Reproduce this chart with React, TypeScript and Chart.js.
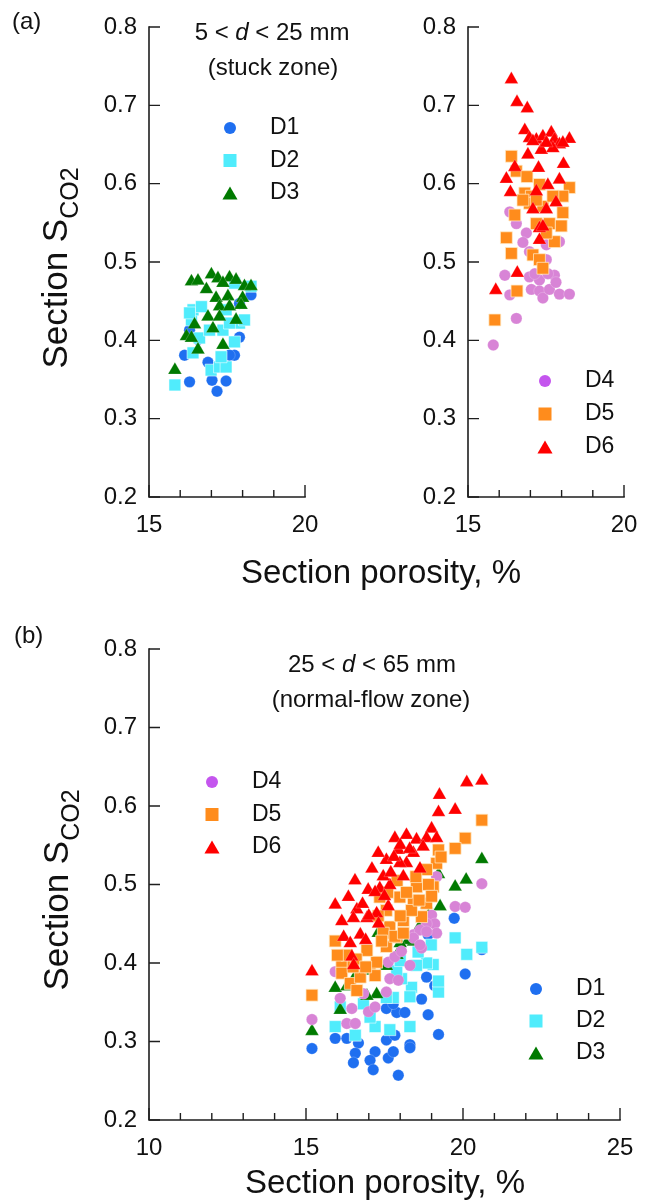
import React, { useEffect, useRef } from 'react';
import { Chart, registerables } from 'chart.js';
Chart.register(...registerables);

const W = 653;
const H = 1203;
const FONT = '"Liberation Sans", Arial, Helvetica, sans-serif';
const AXIS = '#1e1e1e';
const TEXT = '#111111';

// ---------- colours ----------
const C_D1 = '#1f6ff0';
const C_D2 = '#50ecfc';
const C_D3 = '#007a00';
const C_D4 = '#d884d6';
const C_D4_LEG = '#c455ee';
const C_D5 = '#ff8c1c';
const C_D6 = '#ff0000';

// ---------- ticks ----------
const yTickLabels = ['0.2', '0.3', '0.4', '0.5', '0.6', '0.7', '0.8'];
const topXRange = [15, 20];
const bottomXRange = [10, 25];

// ---------- (a) left panel: D1..D3 ----------
const topD1X = [16.30, 17.02, 17.47, 17.18, 16.89, 17.74, 17.90, 16.14, 16.30, 16.57, 18.27, 17.90, 17.58];
const topD1Y = [0.347, 0.349, 0.348, 0.335, 0.372, 0.381, 0.404, 0.381, 0.413, 0.401, 0.458, 0.447, 0.381];

const topD2X = [15.83, 16.41, 16.99, 17.26, 17.47, 17.31, 17.74, 17.90, 18.27, 16.62, 17.37, 17.47, 17.74, 16.36, 18.06, 16.41, 16.68, 16.30, 16.94, 17.58];
const topD2Y = [0.343, 0.384, 0.362, 0.366, 0.366, 0.379, 0.398, 0.422, 0.469, 0.403, 0.413, 0.439, 0.473, 0.426, 0.426, 0.439, 0.443, 0.435, 0.413, 0.422];

const topD3X = [16.36, 16.57, 17.00, 17.21, 17.58, 17.79, 18.06, 18.27, 16.84, 17.37, 17.15, 17.53, 18.00, 17.26, 17.58, 17.95, 16.89, 17.26, 17.79, 16.46, 17.05, 16.20, 16.36, 17.37, 16.57, 15.83];
const topD3Y = [0.475, 0.476, 0.484, 0.479, 0.480, 0.477, 0.469, 0.469, 0.465, 0.473, 0.454, 0.456, 0.454, 0.443, 0.443, 0.445, 0.430, 0.430, 0.426, 0.420, 0.415, 0.405, 0.403, 0.394, 0.388, 0.362];

// ---------- (a) right panel: D4..D6 ----------
const topD4X = [15.81, 16.55, 16.18, 16.34, 16.34, 16.55, 16.87, 16.76, 16.97, 17.51, 17.93, 17.51, 16.97, 17.29, 17.77, 17.03, 17.29, 17.40, 17.61, 17.82, 17.93, 18.25, 17.14, 17.56];
const topD4Y = [0.394, 0.428, 0.483, 0.458, 0.564, 0.549, 0.537, 0.525, 0.513, 0.522, 0.526, 0.503, 0.481, 0.477, 0.483, 0.465, 0.463, 0.454, 0.465, 0.474, 0.459, 0.459, 0.485, 0.485];

const topD5X = [16.39, 16.55, 16.89, 16.82, 17.03, 17.29, 18.25, 18.04, 16.97, 17.40, 18.04, 16.50, 17.61, 17.19, 17.99, 16.23, 17.77, 16.39, 17.08, 17.29, 17.40, 16.57, 15.86, 17.51, 16.76, 17.19, 17.72];
const topD5Y = [0.635, 0.616, 0.609, 0.588, 0.584, 0.599, 0.595, 0.584, 0.575, 0.571, 0.563, 0.560, 0.549, 0.549, 0.546, 0.531, 0.526, 0.511, 0.509, 0.503, 0.492, 0.463, 0.426, 0.537, 0.579, 0.579, 0.584];

const topD6X = [16.39, 16.57, 16.90, 16.82, 16.97, 17.19, 17.40, 17.67, 17.77, 17.93, 18.25, 16.92, 17.35, 17.72, 16.50, 17.26, 18.06, 16.23, 16.36, 17.19, 17.56, 17.93, 17.82, 17.08, 17.51, 17.29, 17.40, 17.29, 16.58, 15.89, 17.08, 17.51, 18.04];
const topD6Y = [0.733, 0.704, 0.696, 0.668, 0.658, 0.656, 0.660, 0.665, 0.656, 0.650, 0.657, 0.637, 0.643, 0.645, 0.621, 0.620, 0.625, 0.606, 0.589, 0.590, 0.598, 0.605, 0.576, 0.567, 0.567, 0.543, 0.545, 0.528, 0.486, 0.464, 0.654, 0.652, 0.652];

// ---------- (b) panel: D1..D6 ----------
const botD1X = [15.19, 15.93, 16.30, 16.67, 16.57, 16.51, 17.20, 17.04, 17.14, 17.62, 17.78, 17.56, 17.83, 17.94, 18.31, 18.31, 18.89, 19.22, 18.68, 18.84, 19.10, 17.56, 17.89, 18.15, 17.78, 20.07, 20.60, 18.89, 19.72];
const botD1Y = [0.291, 0.304, 0.304, 0.298, 0.285, 0.273, 0.287, 0.276, 0.264, 0.279, 0.287, 0.302, 0.308, 0.257, 0.296, 0.292, 0.334, 0.309, 0.354, 0.382, 0.371, 0.342, 0.337, 0.337, 0.348, 0.386, 0.417, 0.436, 0.457];

const botD2X = [19.75, 20.60, 20.12, 15.93, 16.57, 17.20, 17.67, 18.31, 19.22, 19.22, 19.05, 18.84, 18.52, 18.36, 18.31, 17.78, 17.56, 18.04, 17.89, 18.00, 16.83, 16.09, 17.04, 18.57, 18.99];
const botD2Y = [0.432, 0.420, 0.411, 0.319, 0.308, 0.319, 0.315, 0.319, 0.363, 0.377, 0.398, 0.400, 0.397, 0.369, 0.357, 0.356, 0.356, 0.380, 0.390, 0.403, 0.348, 0.344, 0.331, 0.414, 0.423];

const botD3X = [20.60, 20.10, 19.75, 19.27, 18.84, 19.05, 19.22, 17.30, 15.19, 15.93, 16.09, 17.25, 16.94, 17.56, 18.42, 18.26, 18.00, 16.60, 17.00, 16.30, 18.60, 18.90, 17.90];
const botD3Y = [0.532, 0.506, 0.497, 0.472, 0.474, 0.453, 0.513, 0.438, 0.313, 0.368, 0.340, 0.360, 0.358, 0.396, 0.427, 0.429, 0.425, 0.385, 0.390, 0.370, 0.445, 0.460, 0.410];

const botD4X = [19.16, 20.60, 19.75, 20.07, 19.00, 19.10, 18.84, 19.16, 18.42, 18.63, 15.19, 15.93, 16.09, 16.30, 16.57, 16.46, 16.99, 17.20, 17.56, 17.67, 17.94, 17.62, 17.83, 18.31, 18.04, 18.42, 18.68, 18.84, 18.63, 16.83];
const botD4Y = [0.510, 0.501, 0.472, 0.471, 0.461, 0.450, 0.450, 0.438, 0.436, 0.442, 0.328, 0.389, 0.355, 0.323, 0.323, 0.342, 0.338, 0.344, 0.363, 0.380, 0.378, 0.401, 0.408, 0.397, 0.415, 0.432, 0.419, 0.440, 0.423, 0.361];

const botD5X = [20.60, 20.07, 19.75, 19.22, 19.16, 18.84, 18.52, 19.05, 18.42, 18.84, 17.99, 17.56, 18.10, 17.67, 18.68, 18.36, 17.88, 17.46, 15.93, 17.35, 15.19, 16.14, 16.14, 16.41, 16.62, 16.73, 17.04, 17.20, 17.25, 17.56, 17.83, 17.41, 18.10, 16.94, 17.60, 17.90, 18.20, 18.00, 17.30, 18.90, 19.30, 18.60, 18.50, 19.00, 16.30, 16.50, 16.00, 16.60, 16.90];
const botD5Y = [0.582, 0.559, 0.546, 0.544, 0.527, 0.519, 0.497, 0.497, 0.480, 0.476, 0.484, 0.467, 0.454, 0.446, 0.459, 0.467, 0.433, 0.438, 0.428, 0.484, 0.359, 0.399, 0.387, 0.374, 0.365, 0.382, 0.395, 0.384, 0.401, 0.421, 0.434, 0.428, 0.438, 0.416, 0.490, 0.505, 0.490, 0.460, 0.460, 0.500, 0.535, 0.480, 0.510, 0.485, 0.410, 0.395, 0.410, 0.405, 0.395];

const botD6X = [20.12, 20.60, 19.25, 19.22, 19.75, 19.00, 17.83, 18.20, 18.52, 18.84, 19.16, 17.94, 18.42, 18.73, 17.56, 18.20, 18.63, 16.56, 16.98, 17.35, 17.67, 16.35, 15.93, 16.62, 17.25, 17.62, 16.14, 16.51, 16.94, 17.31, 16.20, 16.73, 17.99, 17.46, 16.46, 16.52, 15.19, 16.90, 16.41, 17.10, 17.30, 17.80, 18.00, 18.30, 17.70, 18.10, 17.20, 17.50, 16.80, 17.00];
const botD6Y = [0.630, 0.632, 0.614, 0.592, 0.595, 0.571, 0.559, 0.563, 0.557, 0.559, 0.559, 0.544, 0.540, 0.548, 0.531, 0.527, 0.520, 0.505, 0.493, 0.495, 0.499, 0.484, 0.474, 0.468, 0.463, 0.472, 0.453, 0.457, 0.457, 0.450, 0.433, 0.436, 0.527, 0.510, 0.408, 0.397, 0.389, 0.429, 0.425, 0.520, 0.540, 0.535, 0.550, 0.545, 0.515, 0.510, 0.490, 0.485, 0.475, 0.460];

// ---------- drawing helpers ----------
type Style = 'circle' | 'rect' | 'triangle';
const RADIUS: Record<Style, number> = { circle: 5.7, rect: 8.4, triangle: 7.9 };
const LEG_RADIUS: Record<Style, number> = { circle: 6, rect: 9.2, triangle: 8.7 };

function drawMarker(ctx: CanvasRenderingContext2D, style: Style, x: number, y: number, color: string) {
  const r = LEG_RADIUS[style];
  ctx.save();
  ctx.fillStyle = color;
  ctx.beginPath();
  if (style === 'circle') {
    ctx.arc(x, y, r, 0, Math.PI * 2);
  } else if (style === 'rect') {
    const s = r * Math.SQRT1_2;
    ctx.rect(x - s, y - s, 2 * s, 2 * s);
  } else {
    const yc = y + r * 0.25;
    ctx.moveTo(x, yc - r);
    ctx.lineTo(x + r * Math.sin((2 * Math.PI) / 3), yc - r * Math.cos((2 * Math.PI) / 3));
    ctx.lineTo(x + r * Math.sin((4 * Math.PI) / 3), yc - r * Math.cos((4 * Math.PI) / 3));
    ctx.closePath();
  }
  ctx.fill();
  ctx.restore();
}

function text(ctx: CanvasRenderingContext2D, s: string, x: number, y: number, size: number, align: CanvasTextAlign = 'left', baseline: CanvasTextBaseline = 'middle') {
  ctx.save();
  ctx.font = `${size}px ${FONT}`;
  ctx.fillStyle = TEXT;
  ctx.textAlign = align;
  ctx.textBaseline = baseline;
  ctx.fillText(s, x, y);
  ctx.restore();
}

function richCentered(ctx: CanvasRenderingContext2D, parts: { t: string; i?: boolean }[], cx: number, cy: number, size: number) {
  ctx.save();
  ctx.fillStyle = TEXT;
  ctx.textBaseline = 'middle';
  ctx.textAlign = 'left';
  const fonts = parts.map((p) => `${p.i ? 'italic ' : ''}${size}px ${FONT}`);
  let total = 0;
  const widths = parts.map((p, k) => {
    ctx.font = fonts[k];
    const w = ctx.measureText(p.t).width;
    total += w;
    return w;
  });
  let x = cx - total / 2;
  parts.forEach((p, k) => {
    ctx.font = fonts[k];
    ctx.fillText(p.t, x, cy);
    x += widths[k];
  });
  ctx.restore();
}

function yTitle(ctx: CanvasRenderingContext2D, baselineX: number, centerY: number) {
  const main = 'Section S';
  const sub = 'CO2';
  const fMain = 35;
  const fSub = 25;
  ctx.save();
  ctx.fillStyle = TEXT;
  ctx.translate(baselineX, centerY);
  ctx.rotate(-Math.PI / 2);
  ctx.textBaseline = 'alphabetic';
  ctx.textAlign = 'left';
  ctx.font = `${fMain}px ${FONT}`;
  const w1 = ctx.measureText(main).width;
  ctx.font = `${fSub}px ${FONT}`;
  const w2 = ctx.measureText(sub).width;
  const start = -(w1 + w2) / 2;
  ctx.font = `${fMain}px ${FONT}`;
  ctx.fillText(main, start, 0);
  ctx.font = `${fSub}px ${FONT}`;
  ctx.fillText(sub, start + w1, 11);
  ctx.restore();
}

function legend(ctx: CanvasRenderingContext2D, items: { label: string; style: Style; color: string }[], mx: number, tx: number, y0: number, dy: number) {
  items.forEach((it, k) => {
    const y = y0 + k * dy;
    drawMarker(ctx, it.style, mx, y, it.color);
    text(ctx, it.label, tx, y, 23);
  });
}

// ---------- chart building ----------
type Series = { label: string; xs: number[]; ys: number[]; style: Style; color: string; border: string };

type PanelCfg = {
  series: Series[];
  xRange: number[];
  area: { left: number; right: number; top: number; bottom: number };
  extras: (ctx: CanvasRenderingContext2D) => void;
};

const Y_BOX = 60;
const X_BOX = 40;

function buildChart(canvas: HTMLCanvasElement, cfg: PanelCfg) {
  const a = cfg.area;
  const axesPlugin = {
    id: 'axesAndExtras',
    afterDraw(chart: any) {
      const ctx: CanvasRenderingContext2D = chart.ctx;
      const ca = chart.chartArea;
      const xs = chart.scales.x;
      const ys = chart.scales.y;
      ctx.save();
      ctx.strokeStyle = AXIS;
      ctx.lineWidth = 1.6;
      ctx.lineCap = 'square';
      ctx.beginPath();
      ctx.moveTo(ca.left, ca.top);
      ctx.lineTo(ca.left, ca.bottom);
      ctx.lineTo(ca.right, ca.bottom);
      ctx.stroke();
      ctx.lineCap = 'butt';
      ctx.lineWidth = 1.4;
      ctx.beginPath();
      xs.ticks.forEach((t: any) => {
        const px = xs.getPixelForValue(t.value);
        const len = Math.round(t.value) % 5 === 0 ? 12 : 7;
        ctx.moveTo(px, ca.bottom);
        ctx.lineTo(px, ca.bottom - len);
      });
      ys.ticks.forEach((t: any) => {
        const py = ys.getPixelForValue(t.value);
        ctx.moveTo(ca.left, py);
        ctx.lineTo(ca.left + 11, py);
      });
      ctx.stroke();
      ctx.restore();
      cfg.extras(ctx);
    },
  };

  // datasets listed so the last series is drawn on top
  const datasets = cfg.series
    .slice()
    .reverse()
    .map((s) => ({
      label: s.label,
      data: s.xs.map((x, i) => ({ x, y: s.ys[i] })),
      pointStyle: s.style,
      pointRadius: RADIUS[s.style],
      pointHoverRadius: RADIUS[s.style],
      backgroundColor: s.color,
      pointBackgroundColor: s.color,
      borderColor: s.border,
      pointBorderColor: s.border,
      pointBorderWidth: s.style === 'rect' ? 1 : 0.6,
      showLine: false,
    }));

  return new Chart(canvas, {
    type: 'scatter',
    data: { datasets },
    plugins: [axesPlugin],
    options: {
      responsive: false,
      maintainAspectRatio: false,
      devicePixelRatio: 1,
      animation: false,
      events: [],
      layout: {
        padding: {
          left: a.left - Y_BOX,
          right: W - a.right,
          top: a.top,
          bottom: H - a.bottom - X_BOX,
        },
      },
      plugins: { legend: { display: false }, tooltip: { enabled: false }, title: { display: false } },
      scales: {
        x: {
          type: 'linear',
          min: cfg.xRange[0],
          max: cfg.xRange[1],
          grid: { display: false, drawTicks: false },
          border: { display: false },
          afterFit: (scale: any) => {
            scale.height = X_BOX;
          },
          ticks: {
            stepSize: 1,
            autoSkip: false,
            maxRotation: 0,
            padding: 14,
            color: TEXT,
            font: { family: FONT, size: 24 },
            callback: (v: any) => (Math.round(Number(v)) % 5 === 0 ? String(Math.round(Number(v))) : ''),
          },
        },
        y: {
          type: 'linear',
          min: 0.2,
          max: 0.8,
          grid: { display: false, drawTicks: false },
          border: { display: false },
          afterFit: (scale: any) => {
            scale.width = Y_BOX;
          },
          ticks: {
            stepSize: 0.1,
            padding: 12,
            color: TEXT,
            font: { family: FONT, size: 24 },
            callback: (v: any) => {
              const idx = Math.round((Number(v) - 0.2) * 10);
              return yTickLabels[idx] ?? '';
            },
          },
        },
      },
    } as any,
  });
}

const leftTop: PanelCfg = {
  series: [
    { label: 'D1', xs: topD1X, ys: topD1Y, style: 'circle', color: C_D1, border: 'rgba(255,255,255,0.35)' },
    { label: 'D2', xs: topD2X, ys: topD2Y, style: 'rect', color: C_D2, border: 'rgba(255,255,255,0.55)' },
    { label: 'D3', xs: topD3X, ys: topD3Y, style: 'triangle', color: C_D3, border: 'rgba(255,255,255,0.35)' },
  ],
  xRange: topXRange,
  area: { left: 149, right: 305, top: 27, bottom: 497 },
  extras: (ctx) => {
    text(ctx, '(a)', 12, 22, 24);
    yTitle(ctx, 67, 268);
    text(ctx, 'Section porosity, %', 381, 583, 33, 'center', 'alphabetic');
    richCentered(ctx, [{ t: '5 < ' }, { t: 'd', i: true }, { t: ' < 25 mm' }], 272, 33, 24);
    richCentered(ctx, [{ t: '(stuck zone)' }], 273, 68, 24);
    legend(
      ctx,
      [
        { label: 'D1', style: 'circle', color: C_D1 },
        { label: 'D2', style: 'rect', color: C_D2 },
        { label: 'D3', style: 'triangle', color: C_D3 },
      ],
      230,
      270,
      128,
      32.5
    );
  },
};

const rightTop: PanelCfg = {
  series: [
    { label: 'D4', xs: topD4X, ys: topD4Y, style: 'circle', color: C_D4, border: 'rgba(255,255,255,0.35)' },
    { label: 'D5', xs: topD5X, ys: topD5Y, style: 'rect', color: C_D5, border: 'rgba(255,235,200,0.75)' },
    { label: 'D6', xs: topD6X, ys: topD6Y, style: 'triangle', color: C_D6, border: 'rgba(255,255,255,0.35)' },
  ],
  xRange: topXRange,
  area: { left: 468, right: 624, top: 27, bottom: 497 },
  extras: (ctx) => {
    legend(
      ctx,
      [
        { label: 'D4', style: 'circle', color: C_D4_LEG },
        { label: 'D5', style: 'rect', color: C_D5 },
        { label: 'D6', style: 'triangle', color: C_D6 },
      ],
      545,
      585,
      381,
      33
    );
  },
};

const bottom: PanelCfg = {
  series: [
    { label: 'D1', xs: botD1X, ys: botD1Y, style: 'circle', color: C_D1, border: 'rgba(255,255,255,0.35)' },
    { label: 'D2', xs: botD2X, ys: botD2Y, style: 'rect', color: C_D2, border: 'rgba(255,255,255,0.55)' },
    { label: 'D3', xs: botD3X, ys: botD3Y, style: 'triangle', color: C_D3, border: 'rgba(255,255,255,0.35)' },
    { label: 'D4', xs: botD4X, ys: botD4Y, style: 'circle', color: C_D4, border: 'rgba(255,255,255,0.35)' },
    { label: 'D5', xs: botD5X, ys: botD5Y, style: 'rect', color: C_D5, border: 'rgba(255,235,200,0.75)' },
    { label: 'D6', xs: botD6X, ys: botD6Y, style: 'triangle', color: C_D6, border: 'rgba(255,255,255,0.35)' },
  ],
  xRange: bottomXRange,
  area: { left: 149, right: 620, top: 649, bottom: 1120 },
  extras: (ctx) => {
    text(ctx, '(b)', 14, 636, 24);
    yTitle(ctx, 68, 890);
    text(ctx, 'Section porosity, %', 385, 1193, 33, 'center', 'alphabetic');
    richCentered(ctx, [{ t: '25 < ' }, { t: 'd', i: true }, { t: ' < 65 mm' }], 372, 665, 24);
    richCentered(ctx, [{ t: '(normal-flow zone)' }], 371, 700, 24);
    legend(
      ctx,
      [
        { label: 'D4', style: 'circle', color: C_D4_LEG },
        { label: 'D5', style: 'rect', color: C_D5 },
        { label: 'D6', style: 'triangle', color: C_D6 },
      ],
      212,
      252,
      782,
      32.5
    );
    legend(
      ctx,
      [
        { label: 'D1', style: 'circle', color: C_D1 },
        { label: 'D2', style: 'rect', color: C_D2 },
        { label: 'D3', style: 'triangle', color: C_D3 },
      ],
      536,
      576,
      989,
      32
    );
  },
};

export default function App() {
  const r1 = useRef<HTMLCanvasElement>(null);
  const r2 = useRef<HTMLCanvasElement>(null);
  const r3 = useRef<HTMLCanvasElement>(null);

  useEffect(() => {
    const charts: Chart[] = [];
    if (r1.current) charts.push(buildChart(r1.current, leftTop));
    if (r2.current) charts.push(buildChart(r2.current, rightTop));
    if (r3.current) charts.push(buildChart(r3.current, bottom));
    return () => charts.forEach((c) => c.destroy());
  }, []);

  const cs: React.CSSProperties = { position: 'absolute', left: 0, top: 0, width: W, height: H };
  return (
    <div style={{ position: 'absolute', left: 0, top: 0, width: W, height: H, background: '#ffffff', overflow: 'hidden' }}>
      <canvas ref={r1} width={W} height={H} style={cs} />
      <canvas ref={r2} width={W} height={H} style={cs} />
      <canvas ref={r3} width={W} height={H} style={cs} />
    </div>
  );
}
